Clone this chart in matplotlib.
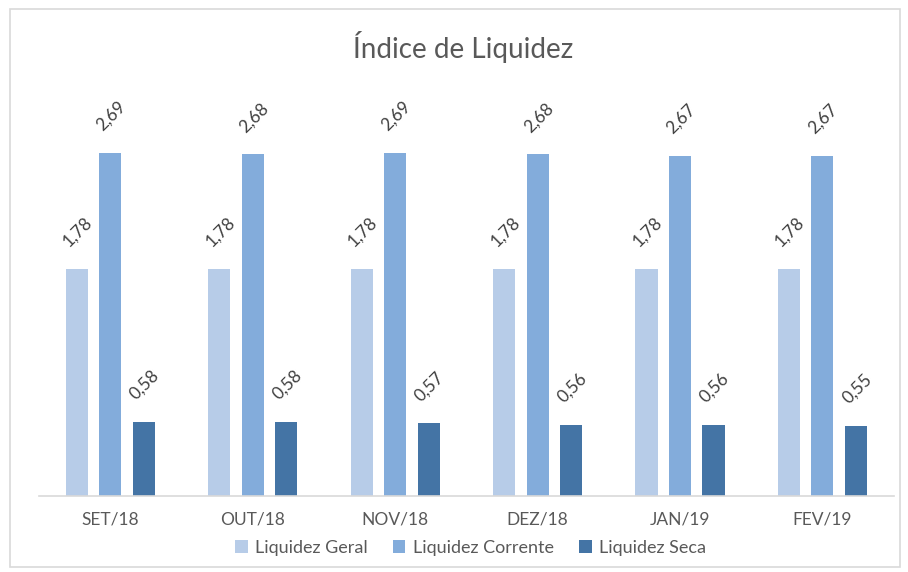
import numpy as np
import matplotlib
matplotlib.use("Agg")
from matplotlib import pyplot as plt
from matplotlib.patches import Rectangle

# dados
meses = ["SET/18", "OUT/18", "NOV/18", "DEZ/18", "JAN/19", "FEV/19"]
liq_geral = [1.78, 1.78, 1.78, 1.78, 1.78, 1.78]
liq_corrente = [2.69, 2.68, 2.69, 2.68, 2.67, 2.67]
liq_seca = [0.58, 0.58, 0.57, 0.56, 0.56, 0.55]

plt.rcParams['font.family'] = ['Lato', 'DejaVu Sans']

fig = plt.figure(figsize=(9.08, 5.72), dpi=100, facecolor='w')
ax = fig.add_axes([0.0430, 0.1329, 0.9412, 0.713])

# borda do gráfico
fig.patches.append(Rectangle((10/908, 1 - 567/572), 890/908, 558/572,
                             transform=fig.transFigure, fill=False,
                             edgecolor='#d9d9d9', linewidth=1.2))

x = np.arange(len(meses))
w = 0.155
off = 0.235
cores = ["#B7CCE8", "#83ACDB", "#4474A5"]
series = [("Liquidez Geral", liq_geral), ("Liquidez Corrente", liq_corrente), ("Liquidez Seca", liq_seca)]

for i, (nome, vals) in enumerate(series):
    pos = x + (i - 1) * off
    ax.bar(pos, vals, w, color=cores[i], label=nome)
    for p, v in zip(pos, vals):
        ax.annotate('{:.2f}'.format(v).replace('.', ','), (p, v),
                    xytext=(1, 37), textcoords='offset pixels',
                    ha='center', va='center', rotation=45,
                    fontsize=12.5, color='#404040')

ax.set_xlim(-0.5, 5.5)
ax.set_ylim(0, 3.2)
ax.set_yticks([])
ax.set_xticks(x)
ax.set_xticklabels(meses, fontsize=12.5, color='#595959')
ax.tick_params(axis='x', length=0, pad=11)
for s in ['top', 'right', 'left']:
    ax.spines[s].set_visible(False)
ax.spines['bottom'].set_color('#d9d9d9')
ax.spines['bottom'].set_linewidth(1.2)

fig.text(0.510, 1 - 47/572, 'Índice de Liquidez', ha='center', va='center',
         fontsize=20, color='#595959')

ax.legend(loc='center', bbox_to_anchor=(0.518, 1 - 548/572), bbox_transform=fig.transFigure,
          ncol=3, frameon=False, fontsize=13, handlelength=0.7, handleheight=0.7,
          handletextpad=0.4, columnspacing=1.4, labelcolor='#595959')

plt.savefig('out.png', dpi=100)
plt.close()
